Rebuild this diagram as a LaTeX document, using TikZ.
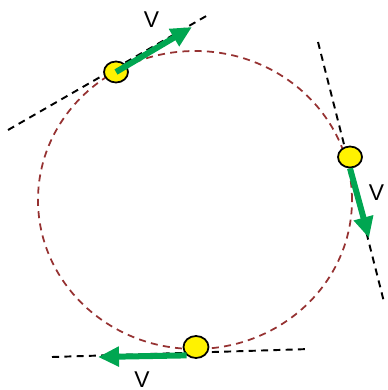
\documentclass[tikz,border=0pt]{standalone}
\usepackage{fontspec}
\setmainfont{Liberation Sans}
\usetikzlibrary{arrows.meta,shapes.geometric}
\definecolor{verde}{RGB}{0,166,81}
\definecolor{rosso}{RGB}{150,50,50}
\tikzset{
  pallina/.style={draw,line width=1pt,fill=yellow,ellipse,inner sep=0pt,minimum width=0.48cm,minimum height=0.42cm},
  tangente/.style={black,line width=1.1pt,dash pattern=on 4pt off 3pt},
  velocita/.style={verde,line width=3.4pt,-{Triangle[length=0.42cm,width=0.38cm]}},
  etichetta/.style={font=\fontsize{13}{15}\selectfont,inner sep=0pt}
}
\begin{document}
\begin{tikzpicture}[scale=1]
        \useasboundingbox (0,0) rectangle (7.74,-7.8);
        % traiettoria
        \draw[rosso,line width=1pt,dash pattern=on 4pt off 3pt] (3.9,-4.0) ellipse (3.14 and 2.98);
        % tangenti
        \draw[tangente] (0.16,-2.6) -- (4.16,-0.3);
        \draw[tangente] (6.36,-0.84) -- (7.68,-6.04);
        \draw[tangente] (1.04,-7.14) -- (6.2,-6.98);
        % punte dei vettori
        \coordinate (p1) at (3.84,-0.54);
        \coordinate (p2) at (7.38,-4.76);
        \coordinate (p3) at (1.96,-7.14);
        % palline
        \node[pallina] (b1) at (2.32,-1.44) {};
        \node[pallina] (b2) at (7.0,-3.14) {};
        \node[pallina,minimum width=0.5cm,minimum height=0.44cm] (b3) at (3.92,-6.94) {};
        % vettori velocita
        \draw[velocita] (b1.center) -- (p1);
        \draw[velocita] (b2.south) -- (p2);
        \draw[velocita] (b3.south west) -- (p3);
        % etichette
        \node[etichetta] (v1) at (3.03,-0.4) {V};
        \node[etichetta] (v2) at (7.53,-3.86) {V};
        \node[etichetta] (v3) at (2.84,-7.6) {V};
    \end{tikzpicture}
\end{document}
